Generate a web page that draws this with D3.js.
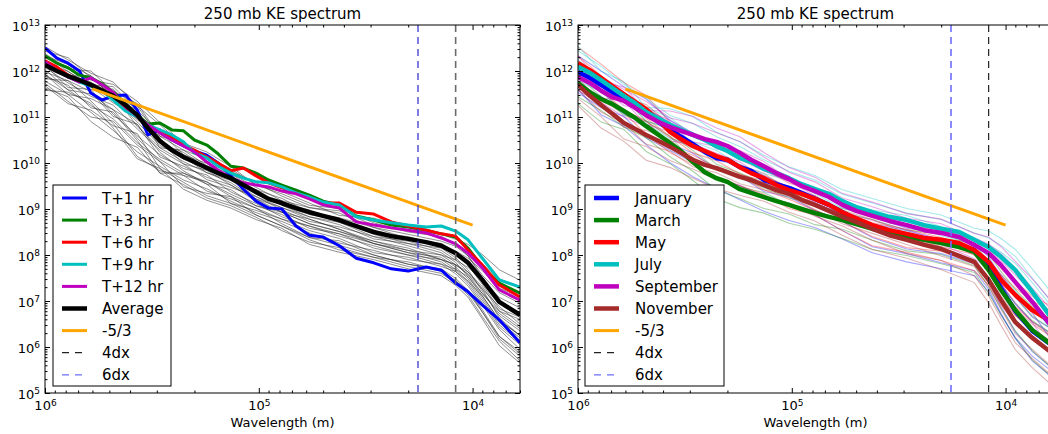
<!DOCTYPE html>
<html>
<head>
<meta charset="utf-8">
<script src="https://cdn.jsdelivr.net/npm/d3@7"></script>
<style>
  body { margin: 0; background: #fff; }
  text { font-family: "DejaVu Sans", sans-serif; fill: #000; }
</style>
</head>
<body>
<div id="chart"></div>
<script>
// grid spacing (m) -> 4dx / 6dx marks, domain ends at 2dx
const dx = 3000;

// wavelengths (km) of the sampled points
const waveThick = [1000, 880, 780, 690, 610, 540, 480, 420, 370, 330, 290, 255, 225, 200, 175, 155, 135, 118, 103, 90,
                   78, 67, 58, 50, 42, 35, 29, 24, 20, 16.5, 14, 12, 10.5, 9, 7.5, 6];
const waveThin = [1000, 780, 610, 480, 370, 290, 225, 175, 135, 103, 78, 58, 42, 29, 20, 14, 12, 10.5, 9, 7.5, 6];

// -5/3 reference line (km, log10 E)
const slopeWave = [600, 10];
const slopeSpec = [11.61, 8.65];

// tick values
const xMajor = [1e6, 1e5, 1e4];
const yMajor = [1e5, 1e6, 1e7, 1e8, 1e9, 1e10, 1e11, 1e12, 1e13];

// ---- left panel: forecast hours (log10 of KE) ----
const t1Spec = [12.50, 12.28, 12.17, 12.00, 11.52, 11.37, 11.46, 11.48, 11.15, 10.61, 10.72, 10.50, 10.37, 10.26, 10.17, 10.00, 9.72, 9.43, 9.17, 9.02,
                9.00, 8.63, 8.43, 8.39, 8.20, 7.93, 7.83, 7.70, 7.65, 7.74, 7.67, 7.39, 7.20, 6.91, 6.59, 6.09];
const t3Spec = [12.33, 12.17, 12.07, 11.91, 11.85, 11.72, 11.54, 11.28, 11.04, 10.85, 10.87, 10.72, 10.70, 10.50, 10.39, 10.20, 9.93, 9.89, 9.78, 9.63,
                9.52, 9.41, 9.30, 9.17, 9.09, 8.85, 8.76, 8.65, 8.61, 8.54, 8.46, 8.39, 8.15, 7.74, 7.39, 7.17];
const t6Spec = [12.22, 12.09, 11.91, 11.80, 11.70, 11.59, 11.41, 11.17, 11.00, 10.80, 10.67, 10.57, 10.39, 10.28, 10.13, 10.00, 9.83, 9.89, 9.72, 9.57,
                9.46, 9.35, 9.24, 9.13, 9.13, 8.93, 8.89, 8.72, 8.63, 8.54, 8.46, 8.41, 8.11, 7.78, 7.35, 7.09];
const t9Spec = [12.15, 12.00, 11.87, 11.76, 11.67, 11.57, 11.37, 11.13, 11.00, 10.83, 10.72, 10.61, 10.46, 10.22, 10.11, 9.93, 9.78, 9.67, 9.59, 9.57,
                9.48, 9.35, 9.26, 9.15, 9.09, 8.83, 8.76, 8.70, 8.65, 8.61, 8.63, 8.52, 8.33, 7.93, 7.46, 7.30];
const t12Spec = [12.20, 12.00, 11.87, 11.76, 11.85, 11.70, 11.54, 11.22, 11.02, 10.83, 10.65, 10.50, 10.37, 10.24, 10.02, 9.85, 9.67, 9.57, 9.52, 9.48,
                 9.39, 9.33, 9.22, 9.09, 9.02, 8.72, 8.65, 8.59, 8.54, 8.48, 8.37, 8.24, 8.04, 7.72, 7.24, 7.02];
const avgSpec = [12.13, 12.00, 11.89, 11.80, 11.70, 11.57, 11.46, 11.26, 11.04, 10.76, 10.48, 10.28, 10.13, 10.02, 9.89, 9.78, 9.67, 9.52, 9.37, 9.22,
                 9.13, 9.02, 8.93, 8.85, 8.76, 8.63, 8.50, 8.41, 8.35, 8.28, 8.20, 8.04, 7.83, 7.46, 6.98, 6.70];

// individual spectra (thin grey), on waveThin
const grayLeft = [
  [12.53, 12.24, 11.95, 11.76, 11.24, 10.83, 10.38, 10.09, 9.82, 9.57, 9.28, 9.03, 8.96, 8.65, 8.55, 8.45, 8.34, 8.23, 8.01, 7.68, 7.45],
  [12.38, 12.04, 12.00, 11.56, 11.29, 10.58, 10.43, 10.24, 9.92, 9.52, 9.38, 9.13, 8.86, 8.80, 8.60, 8.35, 8.24, 8.08, 7.81, 7.48, 7.30],
  [12.23, 11.94, 11.60, 11.61, 11.04, 10.43, 10.23, 9.89, 9.72, 9.32, 9.13, 8.98, 8.71, 8.50, 8.40, 8.20, 8.09, 7.93, 7.66, 7.28, 7.10],
  [12.08, 11.74, 11.45, 11.26, 10.74, 10.28, 9.98, 9.64, 9.47, 9.27, 8.98, 8.73, 8.61, 8.40, 8.20, 8.00, 7.89, 7.73, 7.46, 7.08, 6.85],
  [11.93, 11.59, 11.25, 10.96, 10.44, 10.08, 9.78, 9.59, 9.32, 9.07, 8.88, 8.58, 8.46, 8.25, 8.05, 7.95, 7.74, 7.48, 7.06, 6.53, 6.20],
  [11.78, 11.49, 11.10, 10.71, 10.24, 9.93, 9.63, 9.44, 9.17, 8.92, 8.73, 8.48, 8.26, 8.10, 7.90, 7.80, 7.59, 7.33, 6.91, 6.38, 5.95],
  [11.63, 11.44, 10.90, 10.56, 10.34, 9.78, 9.53, 9.24, 9.07, 8.82, 8.53, 8.28, 8.16, 7.95, 7.75, 7.60, 7.39, 7.13, 6.66, 6.13, 5.70],
  [12.43, 12.29, 11.85, 11.46, 11.14, 10.68, 10.18, 9.99, 9.62, 9.42, 9.23, 8.93, 8.81, 8.60, 8.35, 8.25, 8.04, 7.78, 7.36, 6.83, 6.65],
  [12.13, 11.64, 11.60, 11.06, 10.59, 10.18, 9.88, 9.74, 9.37, 9.12, 8.83, 8.63, 8.41, 8.20, 8.00, 7.80, 7.69, 7.53, 7.16, 6.73, 6.40],
  [11.98, 11.79, 11.35, 10.86, 10.14, 9.83, 9.73, 9.39, 9.22, 9.02, 8.68, 8.38, 8.31, 8.00, 7.80, 7.70, 7.49, 7.23, 6.81, 6.23, 5.85],
  [12.28, 12.09, 11.75, 11.36, 11.24, 10.53, 10.08, 9.94, 9.77, 9.37, 9.08, 8.83, 8.71, 8.40, 8.30, 8.10, 7.89, 7.63, 7.26, 6.88, 6.50],
  [11.73, 11.34, 11.00, 10.91, 10.39, 10.03, 9.48, 9.34, 9.27, 8.87, 8.63, 8.33, 8.11, 7.95, 7.85, 7.65, 7.44, 7.18, 6.76, 6.18, 5.80],
  [12.18, 11.89, 11.90, 11.41, 10.89, 10.38, 10.13, 9.79, 9.57, 9.22, 9.03, 8.78, 8.56, 8.30, 8.10, 7.90, 7.79, 7.58, 7.26, 6.63, 6.25],
  [11.88, 11.69, 11.20, 11.11, 10.49, 9.78, 9.78, 9.54, 9.12, 8.97, 8.78, 8.53, 8.36, 8.05, 7.95, 7.75, 7.64, 7.43, 7.01, 6.48, 6.10],
  [12.33, 11.99, 11.70, 11.66, 11.14, 10.33, 10.28, 10.09, 9.77, 9.47, 9.18, 9.03, 8.91, 8.60, 8.45, 8.30, 8.19, 7.98, 7.56, 7.18, 6.95],
  [12.03, 11.59, 11.50, 11.16, 10.84, 10.13, 9.93, 9.69, 9.52, 9.17, 8.93, 8.68, 8.51, 8.30, 8.15, 7.90, 7.79, 7.63, 7.31, 6.78, 6.60],
  [11.58, 11.54, 11.30, 10.76, 10.09, 9.88, 9.43, 9.19, 9.02, 8.77, 8.58, 8.23, 8.06, 7.90, 7.70, 7.55, 7.34, 7.08, 6.61, 6.03, 5.65],
  [12.48, 12.14, 11.80, 11.71, 11.34, 10.88, 10.43, 10.14, 9.87, 9.52, 9.33, 9.08, 9.01, 8.70, 8.50, 8.40, 8.24, 7.98, 7.51, 6.98, 6.75],
  [11.83, 11.79, 11.55, 11.01, 10.84, 10.23, 9.83, 9.54, 9.42, 9.07, 8.93, 8.78, 8.56, 8.25, 8.05, 7.85, 7.64, 7.38, 6.96, 6.43, 6.05],
  [12.33, 12.14, 11.90, 11.41, 10.94, 10.58, 10.28, 9.94, 9.67, 9.42, 9.08, 8.88, 8.76, 8.45, 8.25, 8.15, 7.94, 7.68, 7.21, 6.68, 6.35],
  [11.68, 11.29, 11.15, 10.81, 10.64, 9.88, 9.58, 9.29, 9.12, 8.87, 8.63, 8.38, 8.21, 8.00, 7.80, 7.65, 7.44, 7.23, 6.76, 6.23, 5.90],
  [12.23, 11.84, 11.75, 11.51, 10.79, 10.33, 10.03, 9.79, 9.62, 9.27, 9.03, 8.83, 8.66, 8.35, 8.25, 8.05, 7.84, 7.53, 7.11, 6.58, 6.25],
  [11.93, 11.49, 11.40, 11.16, 10.54, 10.03, 9.73, 9.59, 9.27, 9.02, 8.78, 8.63, 8.46, 8.15, 8.00, 7.90, 7.69, 7.43, 7.11, 6.58, 6.25],
  [12.18, 11.99, 11.65, 11.31, 10.99, 10.48, 9.98, 9.84, 9.52, 9.22, 8.93, 8.68, 8.51, 8.25, 8.10, 8.00, 7.79, 7.58, 7.16, 6.78, 6.45]
];

// ---- right panel: monthly means (log10 of KE) ----
const janSpec = [11.98, 11.85, 11.70, 11.54, 11.41, 11.26, 11.09, 10.89, 10.72, 10.57, 10.41, 10.24, 10.11, 10.07, 9.91, 9.83, 9.63, 9.54, 9.46, 9.35,
                 9.22, 9.09, 8.93, 8.76, 8.63, 8.52, 8.43, 8.35, 8.28, 8.22, 8.11, 7.76, 7.28, 6.78, 6.35, 6.02];
const marSpec = [11.74, 11.54, 11.39, 11.28, 11.13, 10.98, 10.80, 10.61, 10.43, 10.26, 10.02, 9.80, 9.67, 9.59, 9.43, 9.35, 9.26, 9.17, 9.09, 9.00,
                 8.91, 8.83, 8.76, 8.67, 8.57, 8.48, 8.39, 8.33, 8.26, 8.17, 8.07, 7.67, 7.24, 6.80, 6.37, 6.02];
const maySpec = [12.17, 12.02, 11.85, 11.67, 11.50, 11.33, 11.17, 10.93, 10.67, 10.52, 10.37, 10.26, 10.15, 10.07, 9.91, 9.78, 9.67, 9.52, 9.41, 9.33,
                 9.22, 9.09, 8.93, 8.80, 8.65, 8.54, 8.46, 8.37, 8.33, 8.26, 8.11, 7.85, 7.46, 7.13, 6.80, 6.52];
const julSpec = [12.09, 11.96, 11.80, 11.63, 11.46, 11.30, 11.11, 10.96, 10.83, 10.72, 10.61, 10.50, 10.37, 10.26, 10.11, 10.02, 9.87, 9.78, 9.67, 9.54,
                 9.43, 9.33, 9.17, 9.04, 8.93, 8.83, 8.76, 8.65, 8.57, 8.50, 8.33, 8.17, 7.96, 7.67, 7.20, 6.59];
const sepSpec = [11.87, 11.74, 11.57, 11.43, 11.35, 11.20, 11.04, 10.89, 10.78, 10.70, 10.61, 10.52, 10.46, 10.37, 10.22, 10.07, 9.93, 9.78, 9.65, 9.50,
                 9.39, 9.26, 9.09, 8.96, 8.85, 8.74, 8.65, 8.54, 8.48, 8.39, 8.22, 8.04, 7.78, 7.41, 6.98, 6.41];
const novSpec = [11.70, 11.46, 11.26, 11.07, 10.87, 10.74, 10.61, 10.48, 10.35, 10.22, 10.07, 9.96, 9.89, 9.80, 9.70, 9.63, 9.52, 9.41, 9.33, 9.20,
                 9.09, 8.96, 8.83, 8.72, 8.57, 8.43, 8.33, 8.22, 8.13, 7.98, 7.85, 7.46, 7.02, 6.54, 6.20, 5.85];

// individual spectra for each month, on waveThin
const janThin = [
  [12.33, 12.00, 11.66, 11.39, 10.92, 10.66, 10.31, 10.16, 9.83, 9.61, 9.42, 9.08, 8.83, 8.58, 8.48, 8.26, 7.96, 7.53, 7.08, 6.65, 6.37],
  [11.68, 11.45, 11.06, 10.84, 10.42, 10.21, 9.86, 9.71, 9.38, 9.26, 8.97, 8.73, 8.38, 8.13, 8.03, 7.81, 7.41, 6.88, 6.33, 5.90, 5.52],
  [12.13, 11.75, 11.31, 11.19, 10.87, 10.41, 10.06, 9.96, 9.73, 9.46, 9.27, 8.93, 8.68, 8.53, 8.33, 8.11, 7.81, 7.38, 6.93, 6.55, 6.27],
  [11.53, 11.20, 11.01, 10.54, 10.27, 10.01, 9.66, 9.51, 9.28, 9.06, 8.87, 8.53, 8.18, 8.03, 7.83, 7.66, 7.26, 6.73, 6.18, 5.70, 5.32],
  [11.60, 11.05, 10.80, 10.40, 10.00, 9.70, 9.45, 9.20, 8.95, 8.75, 8.60, 8.35, 8.05, 7.85, 7.70, 7.55, 7.20, 6.70, 6.20, 5.80, 5.45]
];
const marThin = [
  [12.09, 11.69, 11.38, 11.10, 10.63, 10.27, 9.87, 9.68, 9.46, 9.24, 9.11, 8.91, 8.77, 8.54, 8.46, 8.22, 7.87, 7.49, 7.10, 6.67, 6.37],
  [11.44, 11.14, 10.78, 10.55, 10.13, 9.82, 9.42, 9.23, 9.01, 8.89, 8.66, 8.56, 8.32, 8.09, 8.01, 7.77, 7.32, 6.84, 6.35, 5.92, 5.52],
  [11.89, 11.44, 11.03, 10.90, 10.58, 10.02, 9.62, 9.48, 9.36, 9.09, 8.96, 8.76, 8.62, 8.49, 8.31, 8.07, 7.72, 7.34, 6.95, 6.57, 6.27],
  [12.19, 11.59, 11.43, 10.90, 10.78, 10.42, 9.97, 9.78, 9.56, 9.34, 9.21, 9.01, 8.87, 8.64, 8.56, 8.32, 8.02, 7.64, 7.25, 6.87, 6.57],
  [11.29, 10.89, 10.73, 10.25, 9.98, 9.62, 9.22, 9.03, 8.91, 8.69, 8.56, 8.36, 8.12, 7.99, 7.81, 7.62, 7.17, 6.69, 6.20, 5.72, 5.32]
];
const mayThin = [
  [12.52, 12.15, 11.75, 11.47, 10.87, 10.62, 10.35, 10.16, 9.87, 9.56, 9.42, 9.08, 8.85, 8.61, 8.53, 8.26, 8.05, 7.71, 7.43, 7.10, 6.87],
  [11.87, 11.60, 11.15, 10.92, 10.37, 10.17, 9.90, 9.71, 9.42, 9.21, 8.97, 8.73, 8.40, 8.16, 8.08, 7.81, 7.50, 7.06, 6.68, 6.35, 6.02],
  [12.07, 11.70, 11.50, 10.97, 10.57, 10.22, 10.05, 9.76, 9.57, 9.36, 9.12, 8.78, 8.55, 8.36, 8.18, 8.01, 7.70, 7.26, 6.88, 6.55, 6.22],
  [12.32, 11.90, 11.40, 11.27, 10.82, 10.37, 10.10, 9.96, 9.77, 9.41, 9.27, 8.93, 8.70, 8.56, 8.38, 8.11, 7.90, 7.56, 7.28, 7.00, 6.77],
  [11.72, 11.35, 11.10, 10.62, 10.22, 9.97, 9.70, 9.51, 9.32, 9.01, 8.87, 8.53, 8.20, 8.06, 7.88, 7.66, 7.35, 6.91, 6.53, 6.15, 5.82]
];
const julThin = [
  [12.54, 12.00, 11.76, 11.21, 11.18, 11.01, 10.67, 10.46, 10.17, 9.92, 9.73, 9.42, 9.23, 9.01, 8.87, 8.58, 8.52, 8.36, 8.12, 7.70, 7.14],
  [12.44, 12.10, 11.71, 11.41, 11.03, 10.86, 10.57, 10.36, 10.07, 9.82, 9.63, 9.32, 9.13, 8.91, 8.77, 8.48, 8.37, 8.21, 7.97, 7.50, 6.94],
  [12.24, 11.85, 11.36, 11.21, 10.98, 10.61, 10.32, 10.16, 9.97, 9.67, 9.48, 9.17, 8.98, 8.86, 8.62, 8.33, 8.22, 8.06, 7.82, 7.40, 6.84],
  [11.99, 11.65, 11.46, 10.91, 10.73, 10.46, 10.27, 9.96, 9.77, 9.62, 9.33, 9.02, 8.83, 8.66, 8.42, 8.23, 8.02, 7.76, 7.42, 6.95, 6.29],
  [11.79, 11.55, 11.11, 10.86, 10.53, 10.41, 10.12, 9.91, 9.62, 9.47, 9.18, 8.97, 8.68, 8.46, 8.32, 8.03, 7.82, 7.56, 7.22, 6.75, 6.09]
];
const sepThin = [
  [12.22, 11.87, 11.60, 11.34, 10.98, 10.86, 10.66, 10.47, 10.13, 9.80, 9.59, 9.24, 9.05, 8.80, 8.68, 8.37, 8.24, 8.03, 7.71, 7.28, 6.76],
  [11.57, 11.32, 11.00, 10.79, 10.48, 10.41, 10.21, 10.02, 9.68, 9.45, 9.14, 8.89, 8.60, 8.35, 8.23, 7.92, 7.69, 7.38, 6.96, 6.53, 5.91],
  [12.02, 11.62, 11.25, 11.14, 10.93, 10.61, 10.41, 10.27, 10.03, 9.65, 9.44, 9.09, 8.90, 8.75, 8.53, 8.22, 8.09, 7.88, 7.56, 7.18, 6.66],
  [12.32, 11.77, 11.65, 11.14, 11.13, 11.01, 10.76, 10.57, 10.23, 9.90, 9.69, 9.34, 9.15, 8.90, 8.78, 8.47, 8.39, 8.18, 7.86, 7.48, 6.96],
  [11.77, 11.42, 11.35, 10.84, 10.68, 10.46, 10.36, 10.07, 9.83, 9.60, 9.29, 8.94, 8.75, 8.55, 8.33, 8.12, 7.89, 7.58, 7.16, 6.73, 6.11]
];
const novThin = [
  [12.05, 11.56, 11.12, 10.91, 10.55, 10.32, 10.09, 9.95, 9.72, 9.48, 9.29, 8.98, 8.77, 8.48, 8.33, 8.00, 7.66, 7.27, 6.84, 6.50, 6.20],
  [11.40, 11.01, 10.52, 10.36, 10.05, 9.87, 9.64, 9.50, 9.27, 9.13, 8.84, 8.63, 8.32, 8.03, 7.88, 7.55, 7.11, 6.62, 6.09, 5.75, 5.35],
  [11.85, 11.31, 10.77, 10.71, 10.50, 10.07, 9.84, 9.75, 9.62, 9.33, 9.14, 8.83, 8.62, 8.43, 8.18, 7.85, 7.51, 7.12, 6.69, 6.40, 6.10],
  [11.25, 10.76, 10.47, 10.06, 9.90, 9.67, 9.44, 9.30, 9.17, 8.93, 8.74, 8.43, 8.12, 7.93, 7.68, 7.40, 6.96, 6.47, 5.94, 5.55, 5.15],
  [11.60, 11.11, 10.87, 10.41, 10.25, 9.92, 9.79, 9.55, 9.42, 9.28, 8.99, 8.68, 8.47, 8.23, 7.98, 7.75, 7.31, 6.82, 6.29, 5.95, 5.55]
];

const leftLabels = ["T+1 hr", "T+3 hr", "T+6 hr", "T+9 hr", "T+12 hr", "Average"];
const monthLabels = ["January", "March", "May", "July", "September", "November"];

// ---- layout ----
const W = 1048, H = 434;
const padTop = 25, pw = 475, ph = 368;
const panelX = [45, 578];

const svg = d3.select("#chart").append("svg")
    .attr("width", W).attr("height", H)
    .style("background", "#fff");

const x = d3.scaleLog().domain([1e6, 2 * dx]).range([0, pw]);
const y = d3.scaleLog().domain([1e5, 1e13]).range([ph, 0]);

// minor tick positions (2..9 in every decade)
const xMinor = [], yMinor = [];
for (let e = 3; e <= 5; e++) for (let m = 2; m <= 9; m++) {
    const v = m * Math.pow(10, e);
    if (v >= 2 * dx && v < 1e6) xMinor.push(v);
}
for (let e = 5; e <= 12; e++) for (let m = 2; m <= 9; m++) yMinor.push(m * Math.pow(10, e));

const line = d3.line()
    .x(d => x(d[0] * 1000))
    .y(d => y(Math.pow(10, d[1])));

function pts(waves, vals) { return waves.map((w, i) => [w, vals[i]]); }

function superLabels(sel, dy) {
    sel.selectAll(".tick text").each(function (d) {
        const t = d3.select(this);
        const e = Math.round(Math.log10(d));
        t.text("10").attr("dy", dy);
        t.append("tspan").attr("dy", "-0.5em").attr("font-size", "9px").text(e);
    });
}

function makePanel(px, id) {
    const g = svg.append("g").attr("transform", `translate(${px},${padTop})`);

    g.append("clipPath").attr("id", id).append("rect")
        .attr("width", pw).attr("height", ph);

    const plot = g.append("g").attr("clip-path", `url(#${id})`);

    // axes: major + minor ticks pointing inwards on all four sides
    const axes = [
        [d3.axisBottom(x), `translate(0,${ph})`, xMajor, xMinor, "0.95em"],
        [d3.axisTop(x), "translate(0,0)", xMajor, xMinor, null],
        [d3.axisLeft(y), "translate(0,0)", yMajor, yMinor, "0.42em"],
        [d3.axisRight(y), `translate(${pw},0)`, yMajor, yMinor, null]
    ];
    axes.forEach(([ax, tr, major, minor, dy]) => {
        const gm = g.append("g").attr("transform", tr)
            .call(ax.tickValues(minor).tickSizeInner(-2.5).tickSizeOuter(0).tickFormat(""));
        gm.select(".domain").remove();
        const gM = g.append("g").attr("transform", tr)
            .call(ax.tickValues(major).tickSizeInner(-5).tickSizeOuter(0)
                .tickPadding(dy ? 5 : 0).tickFormat(dy ? d3.format("") : ""));
        gM.select(".domain").remove();
        gM.selectAll("text").attr("font-size", "13px").attr("font-family", "DejaVu Sans");
        if (dy) superLabels(gM, dy);
        else gM.selectAll("text").remove();
    });
    g.selectAll(".tick line").attr("stroke", "#000");

    g.append("text").attr("x", pw / 2).attr("y", -6)
        .attr("text-anchor", "middle").attr("font-size", "15px")
        .text("250 mb KE spectrum");
    g.append("text").attr("x", pw / 2).attr("y", 402)
        .attr("text-anchor", "middle").attr("font-size", "13px")
        .text("Wavelength (m)");

    return { g, plot };
}

function refLines(plot, c4, w4, c6, w6) {
    plot.append("path")
        .attr("d", line(pts(slopeWave, slopeSpec)))
        .attr("fill", "none").attr("stroke", "#ffa500").attr("stroke-width", 3);
    plot.append("line")
        .attr("x1", x(4 * dx)).attr("x2", x(4 * dx)).attr("y1", 0).attr("y2", ph)
        .attr("stroke", c4).attr("stroke-width", w4).attr("stroke-dasharray", "7,5");
    plot.append("line")
        .attr("x1", x(6 * dx)).attr("x2", x(6 * dx)).attr("y1", 0).attr("y2", ph)
        .attr("stroke", c6).attr("stroke-width", w6).attr("stroke-dasharray", "7,5");
}

function legend(g, bx, bw, entries, textOff) {
    const by = 160, bh = 201, step = 22.1;
    const lg = g.append("g");
    lg.append("rect").attr("x", bx).attr("y", by).attr("width", bw).attr("height", bh)
        .attr("fill", "#fff").attr("stroke", "#000").attr("stroke-width", 1);
    entries.forEach((e, i) => {
        const cy = by + 13 + i * step;
        lg.append("line")
            .attr("x1", bx + 9).attr("x2", bx + 34).attr("y1", cy).attr("y2", cy)
            .attr("stroke", e.color).attr("stroke-width", e.width)
            .attr("stroke-dasharray", e.dash || null);
        lg.append("text").attr("x", bx + textOff).attr("y", cy + 5.5)
            .attr("font-size", "15px").text(e.label);
    });
}

// ---------- left panel ----------
const L = makePanel(panelX[0], "clipL");
grayLeft.forEach(s => {
    L.plot.append("path").attr("d", line(pts(waveThin, s)))
        .attr("fill", "none").attr("stroke", "#222").attr("stroke-opacity", 0.5)
        .attr("stroke-width", 1);
});
const leftSeries = [t1Spec, t3Spec, t6Spec, t9Spec, t12Spec];
const leftColors = ["#0000ff", "#008000", "#ff0000", "#00bfbf", "#bf00bf"];
leftSeries.forEach((s, i) => {
    L.plot.append("path").attr("d", line(pts(waveThick, s)))
        .attr("fill", "none").attr("stroke", leftColors[i]).attr("stroke-width", 3)
        .attr("stroke-linejoin", "round");
});
L.plot.append("path").attr("d", line(pts(waveThick, avgSpec)))
    .attr("fill", "none").attr("stroke", "#000").attr("stroke-width", 4.5)
    .attr("stroke-linejoin", "round");
refLines(L.plot, "#6a6a6a", 1.6, "#2a2ad8", 1.2);

legend(L.g, 8, 118,
    leftLabels.map((l, i) => ({ label: l, color: i < 5 ? leftColors[i] : "#000", width: i < 5 ? 3 : 4.5 }))
        .concat([{ label: "-5/3", color: "#ffa500", width: 3 },
                 { label: "4dx", color: "#222", width: 1.2, dash: "7,6" },
                 { label: "6dx", color: "#6f6fff", width: 1.2, dash: "7,6" }]), 49);

// ---------- right panel ----------
const R = makePanel(panelX[1], "clipR");
const monthColors = ["#0000ff", "#008000", "#ff0000", "#00bfbf", "#bf00bf", "#a52a2a"];
const monthThin = [janThin, marThin, mayThin, julThin, sepThin, novThin];
const monthMean = [janSpec, marSpec, maySpec, julSpec, sepSpec, novSpec];
monthThin.forEach((set, i) => {
    set.forEach(s => {
        R.plot.append("path").attr("d", line(pts(waveThin, s)))
            .attr("fill", "none").attr("stroke", monthColors[i]).attr("stroke-opacity", 0.35)
            .attr("stroke-width", 1.1);
    });
});
monthMean.forEach((s, i) => {
    R.plot.append("path").attr("d", line(pts(waveThick, s)))
        .attr("fill", "none").attr("stroke", monthColors[i]).attr("stroke-width", 4.5)
        .attr("stroke-linejoin", "round");
});
refLines(R.plot, "#222", 1.2, "#6f6fff", 1.6);

legend(R.g, 7, 139,
    monthLabels.map((l, i) => ({ label: l, color: monthColors[i], width: 4.5 }))
        .concat([{ label: "-5/3", color: "#ffa500", width: 3 },
                 { label: "4dx", color: "#222", width: 1.2, dash: "7,6" },
                 { label: "6dx", color: "#6f6fff", width: 1.2, dash: "7,6" }]), 50);

// frames on top
[L.g, R.g].forEach(g => g.append("rect").attr("width", pw).attr("height", ph)
    .attr("fill", "none").attr("stroke", "#000").attr("stroke-width", 1));
</script>
</body>
</html>
